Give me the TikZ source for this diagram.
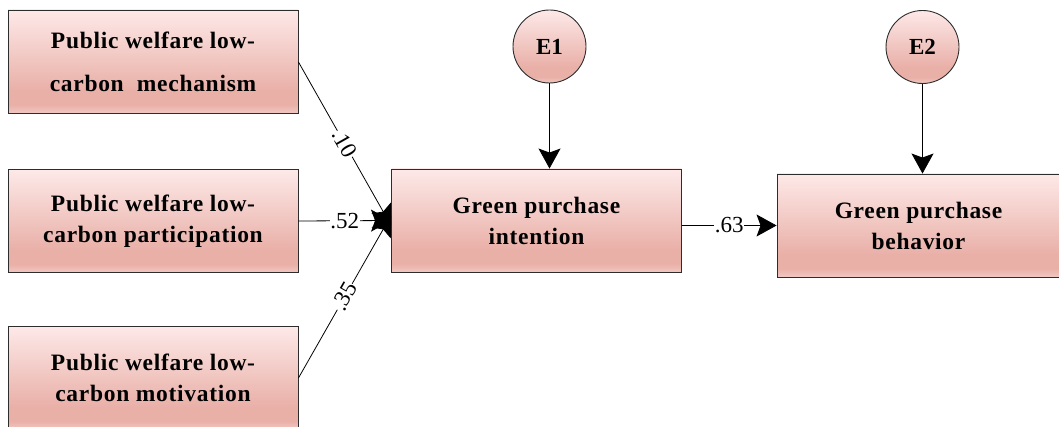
\documentclass[tikz,border=0pt]{standalone}
\usepackage{fontspec}
\setmainfont{Liberation Serif}
\newfontfamily\boxfont[LetterSpace=3]{Liberation Serif}
\usetikzlibrary{arrows.meta}

\definecolor{boxtop}{RGB}{253,233,232}
\definecolor{boxdark}{RGB}{233,176,168}
\definecolor{boxbot}{RGB}{241,200,194}
\definecolor{edgegray}{RGB}{45,45,45}

% pink fade: light at the top, darkest just above the lower edge
\pgfdeclareverticalshading{pinkfade}{100bp}{%
  color(0bp)=(boxbot); color(25bp)=(boxbot); color(29bp)=(boxdark);
  color(36bp)=(boxdark); color(75bp)=(boxtop); color(100bp)=(boxtop)}

\tikzset{
  var/.style={draw=edgegray, line width=0.9pt, shading=pinkfade,
    minimum width=290pt, minimum height=103pt, inner sep=0pt,
    align=center, font=\boxfont\fontsize{23.5}{31}\selectfont\bfseries},
  err/.style={circle, draw=edgegray, line width=0.9pt, shading=pinkfade,
    minimum size=73pt, inner sep=0pt, font=\fontsize{23}{26}\selectfont\bfseries},
  path/.style={draw=black, line width=0.8pt,
    -{Stealth[length=20pt, width=22pt, inset=4pt]}},
  coef/.style={fill=white, inner sep=0.5pt, font=\fontsize{23}{26}\selectfont}
}

\begin{document}
\begin{tikzpicture}[x=1pt, y=-1pt]
  \useasboundingbox (0,0) rectangle (1059,427);

  % exogenous variables
  \node[var] (mech) at (153,61.5) {Public welfare low-\\[12pt]carbon~ mechanism};
  \node[var] (part) at (153,221) {Public welfare low-\\carbon participation};
  \node[var] (moti) at (153,378) {Public welfare low-\\carbon motivation};

  % endogenous variables
  \node[var] (intent) at (536.5,220.5) {Green purchase\\intention};
  \node[var, minimum width=283pt] (behav) at (918.5,225.5) {Green purchase\\behavior};

  % error terms
  \node[err] (e1) at (549.5,46.5) {E1};
  \node[err] (e2) at (922.5,47) {E2};

  % structural paths
  \draw[path] (mech.east |- 0,62) -- ([yshift=-5pt]intent.west)
    node[coef, pos=0.5, sloped] {.10};
  \draw[path] (part.east) -- (intent.west)
    node[coef, pos=0.5] {.52};
  \draw[path] (moti.east) -- ([yshift=5pt]intent.west)
    node[coef, pos=0.5, sloped] {.35};
  \draw[path] (intent.east |- behav.west) -- (behav.west)
    node[coef, pos=0.5] {.63};

  % error paths
  \draw[path] (e1.south) -- (e1.south |- intent.north);
  \draw[path] (e2.south) -- (e2.south |- behav.north);
\end{tikzpicture}
\end{document}
